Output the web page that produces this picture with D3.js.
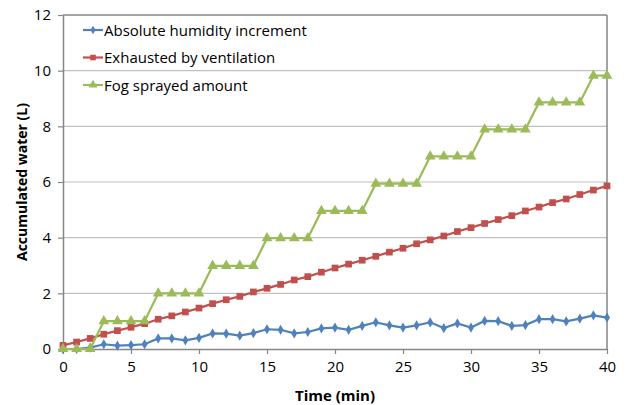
<!DOCTYPE html>
<meta charset="utf-8">
<script src="https://d3js.org/d3.v7.min.js"></script>
<style>
  body { margin: 0; background: #fff; }
  text { font-family: "Open Sans", "Noto Sans", sans-serif; fill: #000; }
</style>
<div id="chart"></div>
<script>
// data (time in min, water in L)
var time = d3.range(0, 41);
var humidity = [0, 0, 0.05, 0.17, 0.12, 0.14, 0.17, 0.38, 0.38, 0.31, 0.40,
  0.56, 0.55, 0.48, 0.57, 0.71, 0.69, 0.56, 0.61, 0.74, 0.77,
  0.69, 0.83, 0.96, 0.85, 0.77, 0.85, 0.96, 0.75, 0.92, 0.77,
  1.01, 1.00, 0.83, 0.86, 1.07, 1.07, 0.99, 1.09, 1.21, 1.13];
var exhausted = [0.13, 0.25, 0.38, 0.53, 0.66, 0.78, 0.91, 1.07, 1.19, 1.33, 1.47,
  1.63, 1.77, 1.89, 2.05, 2.18, 2.32, 2.48, 2.60, 2.76, 2.91,
  3.05, 3.19, 3.33, 3.48, 3.62, 3.78, 3.92, 4.06, 4.22, 4.36,
  4.51, 4.65, 4.79, 4.96, 5.10, 5.26, 5.39, 5.55, 5.71, 5.86];
var fog = [0, 0, 0, 1.0, 1.0, 1.0, 1.0, 2.0, 2.0, 2.0, 2.0,
  2.99, 2.99, 2.99, 2.99, 3.98, 3.98, 3.98, 3.98, 4.96, 4.96,
  4.96, 4.96, 5.94, 5.94, 5.94, 5.94, 6.92, 6.92, 6.92, 6.92,
  7.89, 7.89, 7.89, 7.89, 8.86, 8.86, 8.86, 8.86, 9.82, 9.82];
var seriesNames = ["Absolute humidity increment", "Exhausted by ventilation", "Fog sprayed amount"];
var colors = ["#4F81BD", "#C0504D", "#9BBB59"];
var xTicks = [0, 5, 10, 15, 20, 25, 30, 35, 40];
var yTicks = [0, 2, 4, 6, 8, 10, 12];

var W = 628, H = 405;
var margin = {top: 15, right: 21, bottom: 56, left: 63},
    width = W - margin.left - margin.right,
    height = H - margin.top - margin.bottom;

var svg = d3.select("#chart").append("svg")
  .attr("width", W).attr("height", H);
var g = svg.append("g")
  .attr("transform", "translate(" + margin.left + "," + margin.top + ")");

var x = d3.scaleLinear().domain([0, 40]).range([0, width]);
var y = d3.scaleLinear().domain([0, 12]).range([height, 0]);

// gridlines
g.append("g").selectAll("line")
  .data(yTicks.filter(d => d > 0))
  .join("line")
  .attr("x1", 0).attr("x2", width)
  .attr("y1", d => y(d)).attr("y2", d => y(d))
  .attr("stroke", d => d == 12 ? "#868686" : "#c0c0c0")
  .attr("stroke-width", d => d == 12 ? 1.5 : 1.2);

// right border
g.append("line")
  .attr("x1", width).attr("x2", width).attr("y1", 0).attr("y2", height)
  .attr("stroke", "#868686").attr("stroke-width", 1.5);

// axes
var xAxis = g.append("g")
  .attr("transform", "translate(0," + height + ")")
  .call(d3.axisBottom(x).tickValues(xTicks).tickSize(5).tickSizeOuter(0).tickPadding(7));
var yAxis = g.append("g")
  .call(d3.axisLeft(y).tickValues(yTicks).tickSize(5).tickSizeOuter(0).tickPadding(7));
[xAxis, yAxis].forEach(function(a) {
  a.select(".domain").attr("stroke", "#868686").attr("stroke-width", 1.5);
  a.selectAll(".tick line").attr("stroke", "#868686").attr("stroke-width", 1.2);
  a.selectAll(".tick text").style("font-size", "15px").attr("fill", "#000");
});

// axis titles
svg.append("text")
  .attr("x", margin.left + width / 2).attr("y", 401)
  .attr("text-anchor", "middle")
  .style("font-size", "15px").style("font-weight", "bold")
  .text("Time (min)");
svg.append("text")
  .attr("transform", "translate(27," + (margin.top + height / 2) + ") rotate(-90)")
  .attr("text-anchor", "middle")
  .style("font-size", "14px").style("font-weight", "bold")
  .text("Accumulated water (L)");

var allSeries = [humidity, exhausted, fog];
var symbols = [d3.symbolDiamond, d3.symbolSquare, d3.symbolTriangle];
var symSizes = [30, 45, 50];

var line = d3.line()
  .x((d, i) => x(time[i]))
  .y(d => y(d));

allSeries.forEach(function(vals, s) {
  g.append("path")
    .datum(vals)
    .attr("fill", "none")
    .attr("stroke", colors[s])
    .attr("stroke-width", 2.2)
    .attr("d", line);
  g.append("g").selectAll("path")
    .data(vals)
    .join("path")
    .attr("transform", (d, i) => "translate(" + x(time[i]) + "," + y(d) + ")")
    .attr("d", d3.symbol().type(symbols[s]).size(symSizes[s]))
    .attr("fill", colors[s]);
});

// legend
var legend = g.append("g").attr("transform", "translate(20,15)");
seriesNames.forEach(function(name, s) {
  var row = legend.append("g").attr("transform", "translate(0," + (s * 27.5) + ")");
  row.append("line").attr("x1", 0).attr("x2", 20).attr("y1", 0).attr("y2", 0)
    .attr("stroke", colors[s]).attr("stroke-width", 2.2);
  row.append("path").attr("transform", "translate(10,0)")
    .attr("d", d3.symbol().type(symbols[s]).size(symSizes[s] * 0.7))
    .attr("fill", colors[s]);
  row.append("text").attr("x", 21).attr("y", 5.5)
    .style("font-size", "15px")
    .text(name);
});
</script>
